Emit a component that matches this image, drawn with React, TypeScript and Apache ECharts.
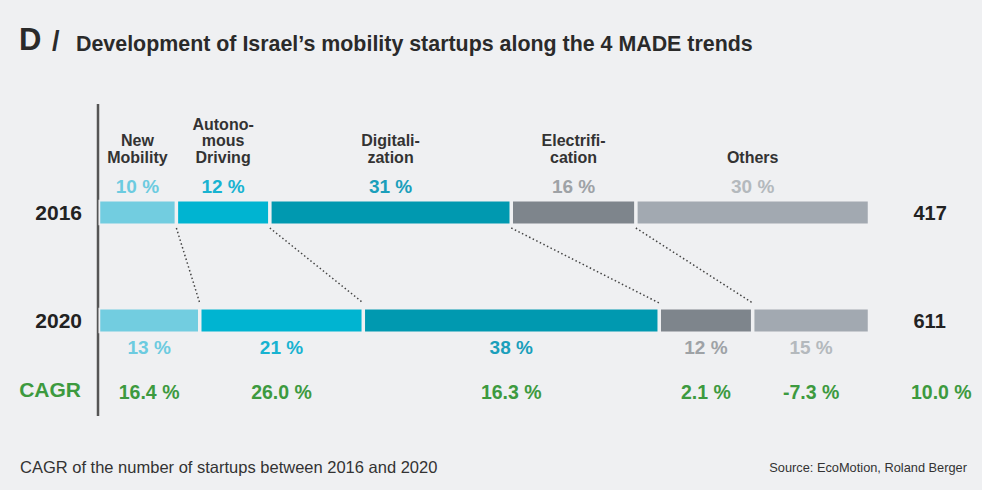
import React, { useEffect, useRef } from "react";
import * as echarts from "echarts";

const YEARS = ["2016", "2020"];
const CATEGORIES = ["New\nMobility", "Autono-\nmous\nDriving", "Digitali-\nzation", "Electrifi-\ncation", "Others"];
const SHARE_2016 = [10, 12, 31, 16, 30];
const SHARE_2020 = [13, 21, 38, 12, 15];
const CAGR = ["16.4", "26.0", "16.3", "2.1", "-7.3"];
const TOTALS = [417, 611];
const CAGR_TOTAL = "10.0";

const BAR_COLORS = ["#72cde0", "#00b4d1", "#0099b0", "#7e858c", "#a2a9b1"];
const PCT_COLORS = ["#6ccbe0", "#18b3d1", "#1a9fbb", "#9ea2a6", "#b4b9bd"];
const GREEN = "#3d9a3f";
const FONT = "'Liberation Sans', Arial, Helvetica, sans-serif";
const BG = "#eff0f2";

export default function App() {
  const ref = useRef<HTMLDivElement>(null);
  useEffect(() => {
    if (!ref.current) return;
    const chart = echarts.init(ref.current, undefined, { renderer: "svg" });
    const total = SHARE_2016.reduce((a, b) => a + b, 0);

    const cum = (arr: number[]) => {
      const out: number[] = [];
      let s = 0;
      for (let i = 0; i < arr.length - 1; i++) {
        s += arr[i];
        out.push(s);
      }
      return out;
    };
    const c16 = cum(SHARE_2016);
    const c20 = cum(SHARE_2020);
    const connectors = c16.map((v, i) => [v, c20[i]]);

    const barSeries = CATEGORIES.map((cat, i) => ({
      type: "bar",
      name: cat.replace(/-?\n/g, ""),
      stack: "all",
      barWidth: 25.5,
      itemStyle: { color: BAR_COLORS[i], borderColor: BG, borderWidth: 1.75 },
      data: [
        {
          value: SHARE_2016[i],
          label: {
            show: true,
            position: "top",
            distance: -7,
            formatter: `{h|${cat}}\n{p|${SHARE_2016[i]} %}`,
            rich: {
              h: { fontFamily: FONT, fontSize: 16, fontWeight: "bold", color: "#333", lineHeight: 16.5, align: "center" },
              p: { fontFamily: FONT, fontSize: 19, fontWeight: "bold", color: PCT_COLORS[i], lineHeight: 41.5, align: "center" },
            },
          },
        },
        {
          value: SHARE_2020[i],
          label: {
            show: true,
            position: "bottom",
            distance: -1.25,
            formatter: `{p|${SHARE_2020[i]} %}\n{c|${CAGR[i]} %}`,
            rich: {
              p: { fontFamily: FONT, fontSize: 19, fontWeight: "bold", color: PCT_COLORS[i], lineHeight: 30, align: "center" },
              c: { fontFamily: FONT, fontSize: 19.5, fontWeight: "bold", color: GREEN, lineHeight: 60, align: "center" },
            },
          },
        },
      ],
    }));

    const option: any = {
      animation: false,
      backgroundColor: BG,
      grid: { left: 98.5, right: 112.5, top: 158.5, height: 216 },
      xAxis: { type: "value", min: 0, max: total, show: false },
      yAxis: [
        {
          type: "category",
          data: YEARS,
          inverse: true,
          axisLine: { show: false },
          axisTick: { show: false },
          axisLabel: { margin: 16.5, fontFamily: FONT, fontSize: 21, fontWeight: "bold", color: "#222" },
        },
        {
          type: "category",
          data: YEARS,
          inverse: true,
          position: "right",
          axisLine: { show: false },
          axisTick: { show: false },
          axisLabel: {
            margin: 44,
            fontFamily: FONT,
            fontSize: 20,
            fontWeight: "bold",
            color: "#222",
            formatter: (_v: string, idx: number) => String(TOTALS[idx]),
          },
        },
      ],
      series: [
        ...barSeries,
        {
          type: "custom",
          coordinateSystem: "cartesian2d",
          clip: false,
          silent: true,
          encode: { x: [0, 1] },
          data: connectors,
          renderItem: (_p: any, api: any) => {
            const s = api.coord([api.value(0), 0]);
            const e = api.coord([api.value(1), 1]);
            return {
              type: "line",
              shape: { x1: s[0], y1: s[1] + 15.5, x2: e[0], y2: e[1] - 17.5 },
              style: { stroke: "#444", lineWidth: 1.5, lineDash: [1.5, 2.5] },
            };
          },
        },
      ],
      graphic: [
        { type: "text", x: 19, y: 39.5, style: { text: "D", fontFamily: FONT, fontSize: 31, fontWeight: "bold", fill: "#2a2a2a", verticalAlign: "middle" } },
        { type: "text", x: 52, y: 40.5, style: { text: "/", fontFamily: FONT, fontSize: 27, fontWeight: "bold", fill: "#2a2a2a", verticalAlign: "middle" } },
        {
          type: "text",
          x: 76,
          y: 43.5,
          style: { text: "Development of Israel’s mobility startups along the 4 MADE trends", fontFamily: FONT, fontSize: 21.4, fontWeight: "bold", fill: "#2a2a2a", verticalAlign: "middle" },
        },
        { type: "line", shape: { x1: 98, y1: 104, x2: 98, y2: 416 }, style: { stroke: "#555", lineWidth: 2.5 } },
        { type: "text", x: 81, y: 389, style: { text: "CAGR", fontFamily: FONT, fontSize: 21, fontWeight: "bold", fill: GREEN, align: "right", verticalAlign: "middle" } },
        { type: "text", x: 911, y: 392, style: { text: `${CAGR_TOTAL} %`, fontFamily: FONT, fontSize: 19.5, fontWeight: "bold", fill: GREEN, align: "left", verticalAlign: "middle" } },
        { type: "text", x: 20, y: 466.5, style: { text: "CAGR of the number of startups between 2016 and 2020", fontFamily: FONT, fontSize: 16.5, fill: "#333", verticalAlign: "middle" } },
        { type: "text", x: 967, y: 467, style: { text: "Source: EcoMotion, Roland Berger", fontFamily: FONT, fontSize: 12.8, fill: "#333", align: "right", verticalAlign: "middle" } },
      ],
    };
    chart.setOption(option);
    return () => chart.dispose();
  }, []);
  return <div ref={ref} style={{ position: "absolute", left: 0, top: 0, width: 982, height: 490 }} />;
}
